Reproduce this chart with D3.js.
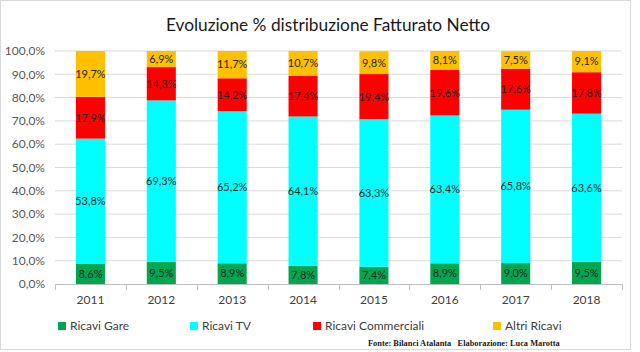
<!DOCTYPE html>
<html><head><meta charset="utf-8">
<script src="https://cdn.jsdelivr.net/npm/d3@7"></script>
<style>body{margin:0;background:#fff;}svg{display:block;}</style>
</head><body>
<script>
const years = ["2011","2012","2013","2014","2015","2016","2017","2018"];
const seriesNames = ["Ricavi Gare","Ricavi TV","Ricavi Commerciali","Altri Ricavi"];
const ricaviGare = [8.6, 9.5, 8.9, 7.8, 7.4, 8.9, 9.0, 9.5];
const ricaviTV = [53.8, 69.3, 65.2, 64.1, 63.3, 63.4, 65.8, 63.6];
const ricaviCommerciali = [17.9, 14.3, 14.2, 17.4, 19.4, 19.6, 17.6, 17.8];
const altriRicavi = [19.7, 6.9, 11.7, 10.7, 9.8, 8.1, 7.5, 9.1];
const yTicks = [0,10,20,30,40,50,60,70,80,90,100];
const colors = ["#00A650","#00FFFF","#FF0000","#FFC000"];
const titleText = "Evoluzione % distribuzione Fatturato Netto";
const sourceText = "Fonte: Bilanci Atalanta   Elaborazione: Luca Marotta";

const W = 640, H = 352;
const font = "Lato, 'Open Sans', sans-serif";
const it = d3.formatLocale({decimal: ",", thousands: ".", grouping: [3], currency: ["€",""]});
const fmt1 = it.format(".1f");

const svg = d3.select("body").append("svg").attr("width", W).attr("height", H);
svg.append("rect").attr("x",0.5).attr("y",0.5).attr("width",630).attr("height",349)
  .attr("fill","#fff").attr("stroke","#d9d9d9");

const table = years.map((y,i)=>({year:y, "Ricavi Gare":ricaviGare[i], "Ricavi TV":ricaviTV[i],
  "Ricavi Commerciali":ricaviCommerciali[i], "Altri Ricavi":altriRicavi[i]}));
const stacked = d3.stack().keys(seriesNames)(table);

const x = d3.scaleBand().domain(years).range([55, 622]).paddingInner(0.59).paddingOuter(0.295);
const xb = d3.scaleBand().domain(years).range([55, 622]);
const y = d3.scaleLinear().domain([0,100]).range([284, 51]);

// gridlines
svg.append("g").selectAll("line").data(yTicks.filter(d=>d>0)).join("line")
  .attr("x1",55).attr("x2",622).attr("y1",d=>y(d)).attr("y2",d=>y(d))
  .attr("stroke","#d9d9d9").attr("stroke-width",1);

// y labels
svg.append("g").selectAll("text").data(yTicks).join("text")
  .attr("x",45).attr("y",d=>y(d)).attr("dy","0.35em").attr("text-anchor","end")
  .attr("font-family",font).attr("font-size",12).attr("fill","#595959")
  .text(d=>fmt1(d)+"%");

// bars
const gs = svg.append("g").selectAll("g").data(stacked).join("g").attr("fill",(d,i)=>colors[i]);
gs.selectAll("rect").data(d=>d).join("rect")
  .attr("x",d=>x(d.data.year)).attr("width",x.bandwidth())
  .attr("y",d=>y(d[1])).attr("height",d=>y(d[0])-y(d[1]));

// labels
const lg = svg.append("g").selectAll("g").data(stacked).join("g");
lg.selectAll("text").data(d=>d.map(v=>({v, key:d.key}))).join("text")
  .attr("x",d=>x(d.v.data.year)+x.bandwidth()/2)
  .attr("y",d=>y((d.v[0]+d.v[1])/2)).attr("dy","0.35em").attr("text-anchor","middle")
  .attr("font-family",font).attr("font-size",11).attr("fill","#1f1f1f")
  .text(d=>fmt1(d.v.data[d.key])+"%");

// x axis
svg.append("line").attr("x1",55).attr("x2",622).attr("y1",284.5).attr("y2",284.5).attr("stroke","#bfbfbf");
const bounds = years.map(d=>xb(d)).concat([622]);
svg.append("g").selectAll("line").data(bounds).join("line")
  .attr("x1",d=>Math.round(d)+0.5).attr("x2",d=>Math.round(d)+0.5).attr("y1",284).attr("y2",290)
  .attr("stroke","#bfbfbf");
svg.append("g").selectAll("text").data(years).join("text")
  .attr("x",d=>xb(d)+xb.bandwidth()/2).attr("y",300).attr("dy","0.35em").attr("text-anchor","middle")
  .attr("font-family",font).attr("font-size",12).attr("fill","#404040").text(d=>d);

// title
svg.append("text").attr("x",328).attr("y",25).attr("dy","0.35em").attr("text-anchor","middle")
  .attr("font-family",font).attr("font-size",17.3).attr("fill","#1a1a1a").text(titleText);

// legend
const legX = [58, 190, 313, 493];
const leg = svg.append("g").selectAll("g").data(seriesNames).join("g")
  .attr("transform",(d,i)=>`translate(${legX[i]},326)`);
leg.append("rect").attr("x",0).attr("y",-4).attr("width",8).attr("height",8).attr("fill",(d,i)=>colors[i]);
leg.append("text").attr("x",12).attr("y",0).attr("dy","0.35em").attr("font-family",font)
  .attr("font-size",12).attr("fill","#404040").text(d=>d);

// source
svg.append("text").attr("x",368).attr("y",343).attr("dy","0.35em")
  .attr("font-family","'Liberation Serif', serif").attr("font-weight","bold").attr("font-size",8.4)
  .attr("fill","#1a1a1a").attr("xml:space","preserve").style("white-space","pre").text(sourceText);
</script>
</body></html>
